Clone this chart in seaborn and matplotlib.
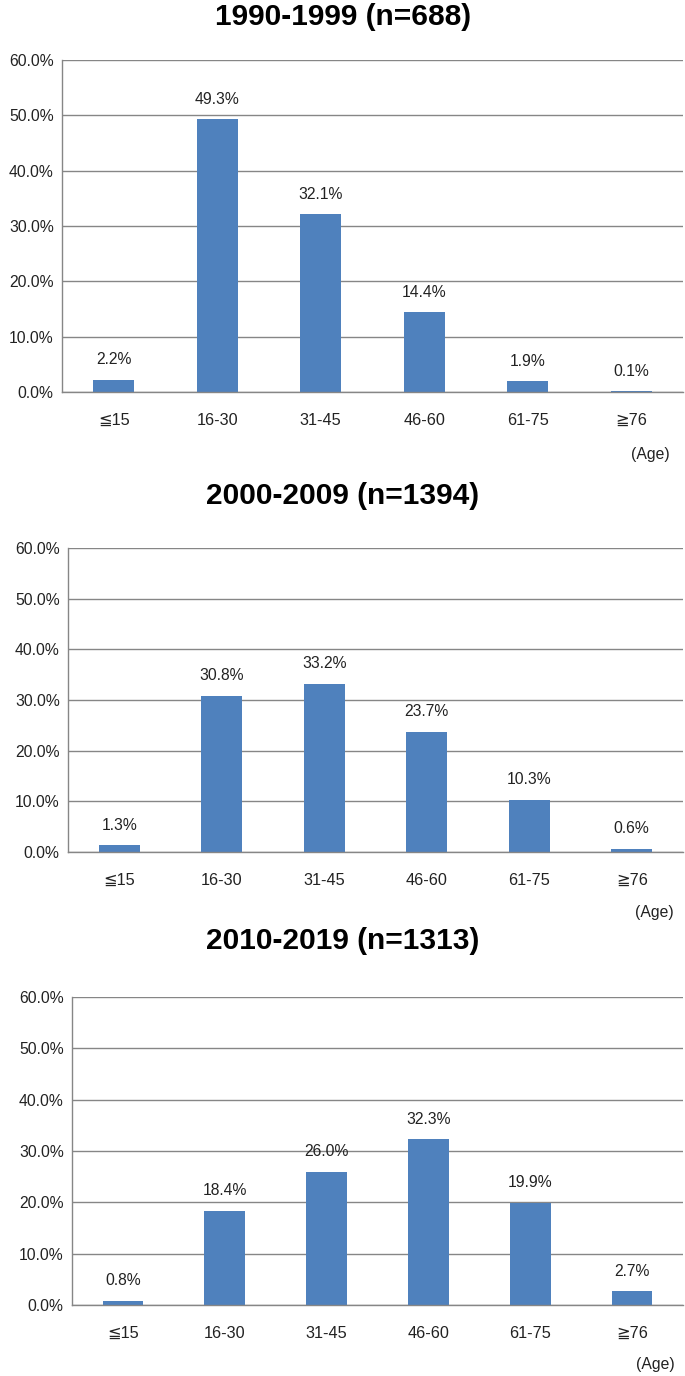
import matplotlib
matplotlib.use("Agg")
import matplotlib.pyplot as plt
import seaborn as sns
import pandas as pd
from matplotlib.ticker import FixedLocator, PercentFormatter

sns.set_style("white")
plt.rcParams['font.family'] = ['Liberation Sans', 'DejaVu Sans', 'Noto Sans CJK KR']

categories = ["≦15", "16-30", "31-45", "46-60", "61-75", "≧76"]
titles = ["1990-1999 (n=688)", "2000-2009 (n=1394)", "2010-2019 (n=1313)"]
vals_1990s = [2.2, 49.3, 32.1, 14.4, 1.9, 0.1]
vals_2000s = [1.3, 30.8, 33.2, 23.7, 10.3, 0.6]
vals_2010s = [0.8, 18.4, 26.0, 32.3, 19.9, 2.7]
yticks = [0, 10, 20, 30, 40, 50, 60]

series = [vals_1990s, vals_2000s, vals_2010s]

W, H = 685, 1376
fig = plt.figure(figsize=(W / 100, H / 100), dpi=100)

# axes boxes in pixels: left, right, top(60%), bottom(0%)
boxes = [(62, 683, 60, 392), (68, 683, 548, 852), (72, 683, 997, 1305)]
title_y = [17, 496, 941]
age_pos = [(650, 455), (654, 913), (655, 1364)]

bar_color = "#4F81BD"
grid_color = "#868686"
text_color = "#222222"
fs = 11.3

for i, (vals, title) in enumerate(zip(series, titles)):
    l, r, t, b = boxes[i]
    ax = fig.add_axes([l / W, 1 - b / H, (r - l) / W, (b - t) / H])
    df = pd.DataFrame({"Age": categories, "Percent": vals})
    sns.barplot(data=df, x="Age", y="Percent", color=bar_color, width=0.4,
                saturation=1, ax=ax, edgecolor="none")
    ax.set_xlim(-0.5, 5.5)
    ax.set_ylim(0, 60)
    ax.set_yticks(yticks)
    ax.yaxis.set_major_formatter(PercentFormatter(decimals=1))
    ax.grid(axis="y", color=grid_color, linewidth=1)
    ax.set_axisbelow(True)
    for s in ["top", "right"]:
        ax.spines[s].set_visible(False)
    for s in ["left", "bottom"]:
        ax.spines[s].set_color(grid_color)
        ax.spines[s].set_linewidth(1)
    ax.set_xlabel("")
    ax.set_ylabel("")
    ax.tick_params(axis="x", which="major", length=0, pad=15, labelsize=fs + 0.4, labelcolor=text_color)
    ax.xaxis.set_minor_locator(FixedLocator([k - 0.5 for k in range(7)]))
    ax.tick_params(axis="x", which="minor", length=5, width=1, color=grid_color, direction="out")
    ax.tick_params(axis="y", length=4, width=1, color=grid_color, direction="out",
                   labelsize=fs, labelcolor=text_color, pad=2)
    for k, v in enumerate(vals):
        ax.annotate(f"{v:.1f}%", (k, v), xytext=(0, 9), textcoords="offset points",
                    ha="center", va="bottom", fontsize=fs, color=text_color)
    fig.text(343 / W, 1 - title_y[i] / H, title, ha="center", va="center",
             fontsize=21.5, fontweight="bold", color="black")
    fig.text(age_pos[i][0] / W, 1 - age_pos[i][1] / H, "(Age)", ha="center", va="center",
             fontsize=fs, color=text_color)

fig.savefig("out.png", dpi=100, facecolor="white")
